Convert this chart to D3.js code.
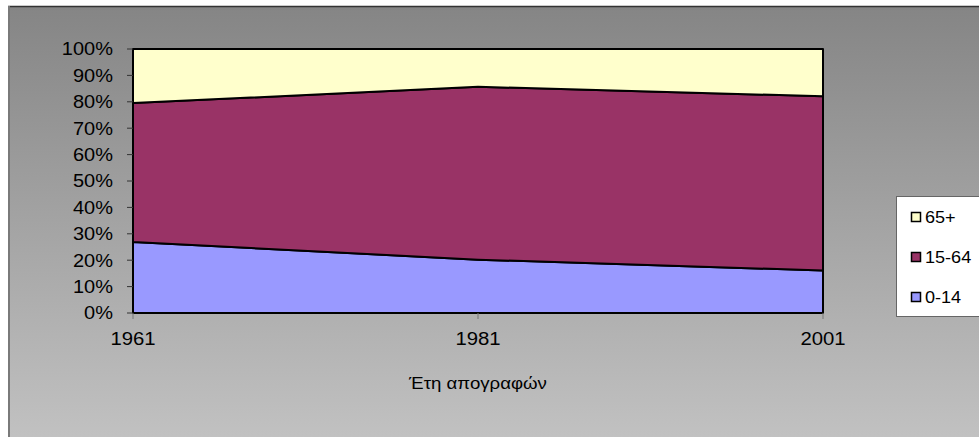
<!DOCTYPE html>
<html>
<head>
<meta charset="utf-8">
<script src="https://cdn.jsdelivr.net/npm/d3@7"></script>
<style>
  body { margin: 0; background: #fff; }
  text { font-family: "Liberation Sans", Arial, sans-serif; fill: #000; }
</style>
</head>
<body>
<svg id="chart" width="979" height="437"></svg>
<script>
// census years and age group shares (%)
const years = ["1961", "1981", "2001"];
const groups = ["0-14", "15-64", "65+"];
const kids = [26.9, 20.2, 16.1];
const adults = [52.6, 65.5, 66.0];
const elders = [20.5, 14.3, 17.9];
const yTicks = [0, 10, 20, 30, 40, 50, 60, 70, 80, 90, 100];
const colors = ["#9999ff", "#993366", "#ffffcc"];
const xTitle = "Έτη απογραφών";

const width = 979, height = 437;
const margin = { left: 133, top: 49, right: 156, bottom: 124 };
const stretch = 1.13; // text in the picture is a bit wider than normal

const svg = d3.select("#chart");

// background gradient of the chart frame
const defs = svg.append("defs");
const grad = defs.append("linearGradient")
  .attr("id", "bg")
  .attr("x1", 0).attr("y1", 0).attr("x2", 0).attr("y2", 1);
grad.append("stop").attr("offset", "0%").attr("stop-color", "#858585");
grad.append("stop").attr("offset", "100%").attr("stop-color", "#c2c2c2");

svg.append("rect")
  .attr("x", 8).attr("y", 6)
  .attr("width", width).attr("height", height)
  .attr("fill", "url(#bg)");
svg.append("line")
  .attr("x1", 8).attr("x2", width).attr("y1", 6.5).attr("y2", 6.5)
  .attr("stroke", "#333").attr("stroke-width", 1.5);
svg.append("line")
  .attr("x1", 9).attr("x2", 9).attr("y1", 6).attr("y2", height)
  .attr("stroke", "#7a7a7a").attr("stroke-width", 2);

const x = d3.scalePoint()
  .domain(years)
  .range([margin.left, width - margin.right]);
const y = d3.scaleLinear()
  .domain([0, 100])
  .range([height - margin.bottom, margin.top]);

// build rows for the stack
const rows = years.map((yr, i) => ({
  year: yr,
  "0-14": kids[i],
  "15-64": adults[i],
  "65+": elders[i]
}));
const series = d3.stack().keys(groups).offset(d3.stackOffsetExpand)(rows);

const area = d3.area()
  .x((d) => x(d.data.year))
  .y0((d) => y(d[0] * 100))
  .y1((d) => y(d[1] * 100));

const g = svg.append("g");

g.selectAll("path.area")
  .data(series)
  .enter()
  .append("path")
  .attr("class", "area")
  .attr("d", area)
  .attr("fill", (d, i) => colors[i])
  .attr("stroke", "#000")
  .attr("stroke-width", 2)
  .attr("stroke-linejoin", "round");

// y axis ticks and labels
const yAxis = g.append("g");
yAxis.selectAll("line")
  .data(yTicks)
  .enter()
  .append("line")
  .attr("x1", margin.left - 6).attr("x2", margin.left)
  .attr("y1", (d) => y(d)).attr("y2", (d) => y(d))
  .attr("stroke", "#333").attr("stroke-width", 1);
yAxis.selectAll("text")
  .data(yTicks)
  .enter()
  .append("text")
  .attr("transform", (d) => `translate(113, ${y(d) + 6.3}) scale(${stretch},1)`)
  .attr("text-anchor", "end")
  .style("font-size", "17.7px")
  .text((d) => d + "%");

// x axis ticks and labels
const xAxis = g.append("g");
xAxis.selectAll("line")
  .data(years)
  .enter()
  .append("line")
  .attr("x1", (d) => x(d)).attr("x2", (d) => x(d))
  .attr("y1", y(0)).attr("y2", y(0) + 6)
  .attr("stroke", "#777").attr("stroke-width", 1);
xAxis.selectAll("text")
  .data(years)
  .enter()
  .append("text")
  .attr("transform", (d) => `translate(${x(d)}, 345) scale(${stretch},1)`)
  .attr("text-anchor", "middle")
  .style("font-size", "18px")
  .text((d) => d);

svg.append("text")
  .attr("transform", `translate(${(x(years[0]) + x(years[2])) / 2}, 389) scale(${stretch},1)`)
  .attr("text-anchor", "middle")
  .style("font-size", "16.5px")
  .text(xTitle);

// legend, top item is the top band
const legend = svg.append("g");
legend.append("rect")
  .attr("x", 896.5).attr("y", 196.5)
  .attr("width", 100).attr("height", 120)
  .attr("fill", "#fff")
  .attr("stroke", "#666").attr("stroke-width", 1);
const items = legend.selectAll("g.item")
  .data(groups.slice().reverse())
  .enter()
  .append("g")
  .attr("class", "item")
  .attr("transform", (d, i) => `translate(911, ${217 + i * 40})`);
items.append("rect")
  .attr("x", 0.5).attr("y", -4.5)
  .attr("width", 9).attr("height", 9)
  .attr("fill", (d) => colors[groups.indexOf(d)])
  .attr("stroke", "#000").attr("stroke-width", 1.5);
items.append("text")
  .attr("transform", `translate(14, 6) scale(${stretch},1)`)
  .style("font-size", "16px")
  .text((d) => d);
</script>
</body>
</html>
